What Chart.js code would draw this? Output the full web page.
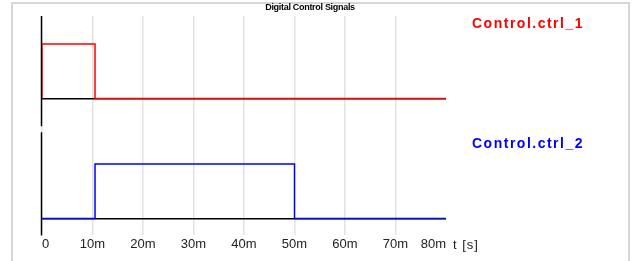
<!DOCTYPE html>
<html>
<head>
<meta charset="utf-8">
<script src="https://cdn.jsdelivr.net/npm/chart.js@4/dist/chart.umd.min.js"></script>
<style>
  html, body { margin: 0; padding: 0; background: #fff; }
  #wrap { position: relative; width: 633px; height: 261px; overflow: hidden; }
  #frame { position: absolute; left: 11px; top: 2px; width: 615px; height: 280px; border: 2px solid #d6d6d6; }
  canvas { position: absolute; left: 0; top: 0; }
</style>
</head>
<body>
<div id="wrap">
  <div id="frame"></div>
  <canvas id="sigChart" width="633" height="261"></canvas>
</div>
<script>
// signal data (time in ms, digital level 0/1)
const ctrl1Times = [0, 0, 10.5, 80];
const ctrl1Values = [0, 1, 0, 0];
const ctrl2Times = [0, 10.5, 50, 80];
const ctrl2Values = [0, 1, 0, 0];
const seriesNames = ["Control.ctrl_1", "Control.ctrl_2"];
const seriesColors = ["#ff0000", "#0000ff"];
const xTickLabels = ["0", "10m", "20m", "30m", "40m", "50m", "60m", "70m", "80m"];
const chartTitle = "Digital Control Signals";
const xUnitLabel = "t [s]";

const FONT = "'Liberation Sans', Arial, sans-serif";

function toPoints(times, values) {
  return times.map((t, i) => ({ x: t, y: values[i] }));
}

// y axis segments (under the traces), then title, unit and right-hand labels
const decorPlugin = {
  id: "decor",
  beforeDatasetsDraw(chart) {
    const ctx = chart.ctx;
    const x0 = chart.scales.x.getPixelForValue(0) - 0.5;
    const top = chart.scales.y1, bot = chart.scales.y2;
    ctx.save();
    ctx.strokeStyle = "#000";
    ctx.lineWidth = 1.5;
    ctx.beginPath();
    ctx.moveTo(x0, top.top);
    ctx.lineTo(x0, top.bottom - 3);
    ctx.moveTo(x0, bot.top + 3);
    ctx.lineTo(x0, bot.bottom);
    ctx.stroke();
    ctx.restore();
  },
  afterDraw(chart) {
    const ctx = chart.ctx;
    const area = chart.chartArea;
    const top = chart.scales.y1, bot = chart.scales.y2;
    ctx.save();

    // title
    ctx.fillStyle = "#000";
    ctx.font = "bold 9px " + FONT;
    ctx.letterSpacing = "-0.3px";
    ctx.textAlign = "center";
    ctx.textBaseline = "middle";
    ctx.fillText(chartTitle, 310, 8);

    // unit label after the last tick
    ctx.font = "13px " + FONT;
    ctx.letterSpacing = "1px";
    ctx.fillStyle = "#222";
    ctx.textAlign = "left";
    ctx.fillText(xUnitLabel, area.right + 7, 245);

    // series names
    ctx.font = "bold 14px " + FONT;
    ctx.letterSpacing = "1.5px";
    [top, bot].forEach((sc, i) => {
      ctx.fillStyle = seriesColors[i];
      ctx.fillText(seriesNames[i], 472, sc.getPixelForValue(1.36));
    });
    ctx.restore();
  }
};

new Chart(document.getElementById("sigChart"), {
  type: "line",
  data: {
    datasets: [
      {
        label: seriesNames[0],
        data: toPoints(ctrl1Times, ctrl1Values),
        yAxisID: "y1",
        borderColor: seriesColors[0],
        borderWidth: 1.5,
        stepped: true,
        pointRadius: 0,
        fill: false
      },
      {
        label: seriesNames[1],
        data: toPoints(ctrl2Times, ctrl2Values),
        yAxisID: "y2",
        borderColor: seriesColors[1],
        borderWidth: 1.5,
        stepped: true,
        pointRadius: 0,
        fill: false
      }
    ]
  },
  options: {
    responsive: false,
    animation: false,
    parsing: false,
    layout: { padding: { left: 42, right: 187, top: 16, bottom: 8 } },
    plugins: { legend: { display: false }, title: { display: false }, tooltip: { enabled: false } },
    scales: {
      x: {
        type: "linear",
        min: 0,
        max: 80,
        border: { display: false },
        grid: {
          drawTicks: false,
          lineWidth: 1.5,
          color: (c) => (c.tick && c.tick.value === 80 ? "rgba(0,0,0,0)" : "#e2e2e2")
        },
        ticks: {
          stepSize: 10,
          align: "inner",
          padding: 1,
          color: "#222",
          font: { family: FONT, size: 13 },
          callback: (v, i) => xTickLabels[i]
        }
      },
      y2: {
        type: "linear",
        position: "left",
        stack: "sig",
        stackWeight: 107,
        min: -0.31,
        max: 1.64,
        border: { display: false },
        grid: { drawTicks: false, color: "#000", lineWidth: 1.5 },
        ticks: { display: false },
        afterBuildTicks: (s) => { s.ticks = [{ value: 0 }]; }
      },
      y1: {
        type: "linear",
        position: "left",
        stack: "sig",
        stackWeight: 114,
        min: -0.56,
        max: 1.51,
        border: { display: false },
        grid: { drawTicks: false, color: "#000", lineWidth: 1.5 },
        ticks: { display: false },
        afterBuildTicks: (s) => { s.ticks = [{ value: 0 }]; }
      }
    }
  },
  plugins: [decorPlugin]
});
</script>
</body>
</html>
